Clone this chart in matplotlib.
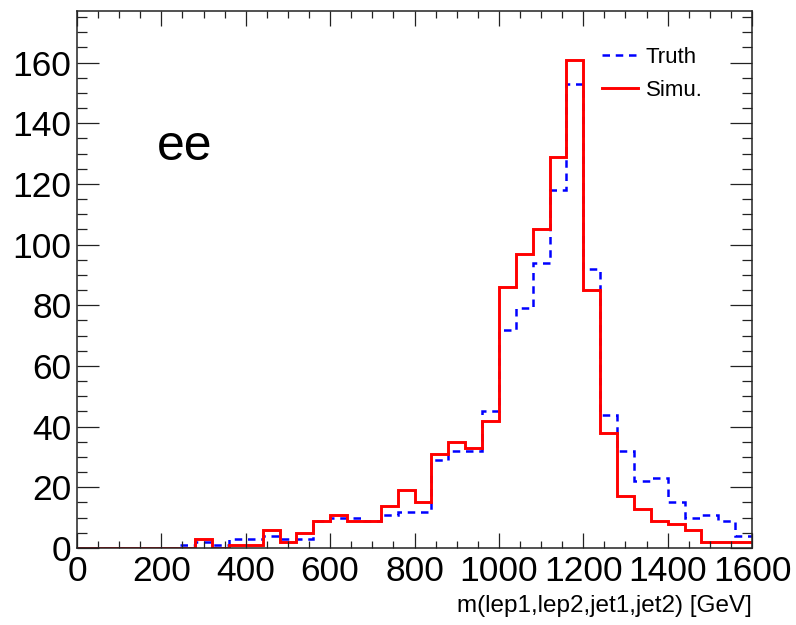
import numpy as np
import matplotlib.pyplot as plt
from matplotlib.ticker import MultipleLocator

plt.rcParams['font.family'] = ['Liberation Sans', 'DejaVu Sans']

# Bin edges: 40 bins of 40 GeV from 0 to 1600
edges = np.arange(0, 1601, 40)

# Truth (blue dashed)
truth = [0, 0, 0, 0, 0, 0, 1, 2, 1, 3,
         3, 4, 3, 3, 9, 10, 10, 9, 11, 12,
         12, 29, 32, 32, 45, 72, 79, 94, 118, 153,
         92, 44, 32, 22, 23, 15, 10, 11, 9, 4]

# Simulation (red solid)
simu = [0, 0, 0, 0, 0, 0, 0, 3, 0, 1,
        1, 6, 2, 5, 9, 11, 9, 9, 14, 19,
        15, 31, 35, 33, 42, 86, 97, 105, 129, 161,
        85, 38, 17, 13, 9, 8, 6, 2, 2, 2]

fig = plt.figure(figsize=(7.96, 6.25), dpi=100)
ax = fig.add_axes([77 / 796, 77 / 625, 675 / 796, 537 / 625])

ax.stairs(truth, edges, baseline=None, color="#0000ff", linewidth=1.8,
          linestyle=(0, (3, 2.3)), label="Truth")
ax.stairs(simu, edges, baseline=None, color="#ff0000", linewidth=2.1,
          label="Simu.")

ax.set_xlim(0, 1600)
ax.set_ylim(0, 177)

# ROOT-like ticks on all sides, pointing inwards
ax.xaxis.set_major_locator(MultipleLocator(200))
ax.xaxis.set_minor_locator(MultipleLocator(50))
ax.yaxis.set_major_locator(MultipleLocator(20))
ax.yaxis.set_minor_locator(MultipleLocator(5))
ax.tick_params(which="both", direction="in", top=True, right=True,
               width=0.9, color="#222222", labelsize=25.5)
ax.tick_params(axis="x", which="major", length=11, pad=5)
ax.tick_params(axis="x", which="minor", length=5)
ax.tick_params(axis="y", which="major", length=16, pad=4)
ax.tick_params(axis="y", which="minor", length=7.5)
for s in ax.spines.values():
    s.set_linewidth(1.1)
    s.set_color("#222222")

ax.set_xlabel("m(lep1,lep2,jet1,jet2) [GeV]", fontsize=17.5, ha="right",
              va="baseline")
ax.xaxis.set_label_coords(1.0, -0.12)

ax.text(0.1185, 0.7225, "ee", transform=ax.transAxes, fontsize=36,
        va="baseline", ha="left")

ax.legend(loc="upper left", bbox_to_anchor=(0.765, 0.95), frameon=False,
          fontsize=16, handlelength=1.6, handletextpad=0.35,
          labelspacing=0.55, borderaxespad=0)

fig.savefig("out.png", dpi=100)
